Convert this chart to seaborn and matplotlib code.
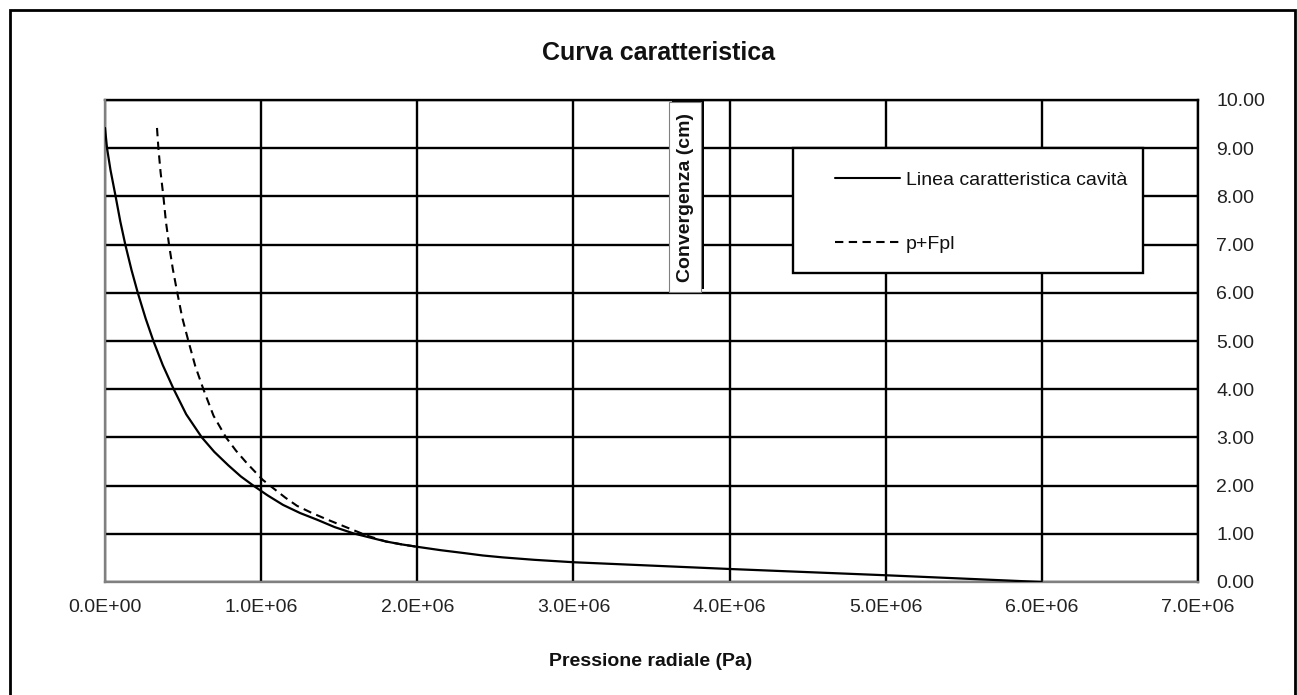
import matplotlib
matplotlib.use("Agg")
import matplotlib.pyplot as plt
from matplotlib.patches import Rectangle
from matplotlib.lines import Line2D
from matplotlib.ticker import FuncFormatter, MultipleLocator
import seaborn as sns

# Linea caratteristica della cavità: pressione radiale (Pa) -> convergenza (cm)
p_cavita = [0.0, 0.013e6, 0.035e6, 0.068e6, 0.098e6, 0.13e6, 0.17e6, 0.21e6,
            0.26e6, 0.31e6, 0.37e6, 0.44e6, 0.52e6, 0.62e6, 0.70e6, 0.79e6,
            0.87e6, 0.95e6, 1.04e6, 1.14e6, 1.25e6, 1.36e6, 1.47e6, 1.59e6,
            1.70e6, 1.80e6, 1.90e6, 2.0e6, 2.15e6, 2.3e6, 2.42e6, 2.55e6,
            2.75e6, 3.0e6, 4.0e6, 5.0e6, 6.0e6]
u_cavita = [9.42, 9.0, 8.55, 8.0, 7.48, 7.0, 6.47, 6.0,
            5.47, 5.0, 4.5, 4.0, 3.48, 3.0, 2.70, 2.42,
            2.19, 2.0, 1.80, 1.60, 1.43, 1.29, 1.14, 1.01,
            0.92, 0.84, 0.78, 0.73, 0.66, 0.60, 0.55, 0.51,
            0.46, 0.41, 0.27, 0.14, 0.0]

# Curva p + Fpl
p_fpl = [0.333e6, 0.342e6, 0.356e6, 0.374e6, 0.39e6, 0.41e6, 0.434e6, 0.463e6,
         0.495e6, 0.534e6, 0.578e6, 0.63e6, 0.695e6, 0.775e6, 0.84e6, 0.91e6,
         1.01e6, 1.08e6, 1.155e6, 1.23e6, 1.32e6, 1.42e6, 1.55e6, 1.68e6,
         1.80e6, 1.90e6, 2.0e6]
u_fpl = [9.42, 9.0, 8.5, 8.0, 7.48, 7.0, 6.5, 6.0,
         5.48, 5.0, 4.48, 4.0, 3.45, 3.0, 2.72, 2.46,
         2.12, 1.94, 1.75, 1.58, 1.44, 1.30, 1.13, 0.96,
         0.84, 0.78, 0.73]

series_labels = ["Linea caratteristica cavità", "p+Fpl"]
titolo = "Curva caratteristica"
label_x = "Pressione radiale (Pa)"
label_y = "Convergenza (cm)"

sns.set_theme(style="white")
plt.rcParams["font.family"] = ["Liberation Sans", "DejaVu Sans"]

W, H = 1297, 695
fig = plt.figure(figsize=(W / 100, H / 100), dpi=100)
fig.patch.set_facecolor("white")


def fx(x):
    return x / W


def fy(y):
    return 1 - y / H


ax = fig.add_axes([fx(105), fy(582), (1198 - 105) / W, (582 - 100) / H])
ax.set_facecolor("white")

sns.lineplot(x=p_cavita, y=u_cavita, ax=ax, color="black", lw=1.6,
             sort=False, estimator=None, zorder=3)
sns.lineplot(x=p_fpl, y=u_fpl, ax=ax, color="black", lw=1.5,
             sort=False, estimator=None, zorder=3)
ax.lines[-1].set_dashes((4, 2.6))

ax.set_xlim(0, 7e6)
ax.set_ylim(0, 10)
ax.xaxis.set_major_locator(MultipleLocator(1e6))
ax.yaxis.set_major_locator(MultipleLocator(1))
ax.xaxis.set_major_formatter(FuncFormatter(lambda v, _: f"{v:.1E}"))
ax.yaxis.set_major_formatter(FuncFormatter(lambda v, _: f"{v:.2f}"))
ax.yaxis.tick_right()
ax.tick_params(axis="both", length=0, labelsize=14, colors="#222222")
ax.tick_params(axis="x", pad=12.5)
ax.tick_params(axis="y", pad=13)

ax.set_axisbelow(True)
ax.grid(True, color="black", lw=1.7)
for side in ("left", "bottom"):
    ax.spines[side].set_color("#808080")
    ax.spines[side].set_linewidth(1.7)
    ax.spines[side].set_zorder(2.6)
for side in ("top", "right"):
    ax.spines[side].set_color("black")
    ax.spines[side].set_linewidth(1.7)

ax.set_xlabel("")
ax.set_ylabel("")
fig.text(fx(651), fy(661), label_x, ha="center", va="center",
         fontsize=14, fontweight="bold", color="#111111")
fig.text(fx(658), fy(53), titolo, ha="center", va="center",
         fontsize=18, fontweight="bold", color="#111111")

# Titolo dell'asse y in un riquadro con ombra
ax.add_patch(Rectangle((fx(672), fy(289)), 32 / W, 190 / H,
                       transform=fig.transFigure, facecolor="black",
                       edgecolor="none", zorder=4, clip_on=False))
ax.add_patch(Rectangle((fx(669), fy(292)), 32 / W, 190 / H,
                       transform=fig.transFigure, facecolor="white",
                       edgecolor="#808080", lw=0.8, zorder=4.1, clip_on=False))
ax.text(fx(686), fy(197), label_y, transform=fig.transFigure, rotation=90,
        ha="center", va="center", fontsize=14, fontweight="bold",
        color="#111111", zorder=4.2)

# Riquadro della legenda
ax.add_patch(Rectangle((fx(793), fy(273)), 350 / W, 125 / H,
                       transform=fig.transFigure, facecolor="white",
                       edgecolor="black", lw=1.7, zorder=4, clip_on=False))
handles = [Line2D([], [], color="black", lw=1.5),
           Line2D([], [], color="black", lw=1.5, dashes=(4, 2.6))]
leg = ax.legend(handles, series_labels, loc="center left",
                bbox_to_anchor=(fx(835), fy(212)), bbox_transform=fig.transFigure,
                frameon=False, fontsize=14, handlelength=3.35,
                handletextpad=0.3, labelspacing=2.4, borderpad=0,
                borderaxespad=0)
leg.set_zorder(5)
for t in leg.get_texts():
    t.set_color("#111111")

# Bordo esterno del grafico
fig.add_artist(Rectangle((fx(10), fy(720)), (1295 - 10) / W, (720 - 10) / H,
                         transform=fig.transFigure, facecolor="none",
                         edgecolor="black", lw=2.0))

fig.savefig("out.png", dpi=100)
